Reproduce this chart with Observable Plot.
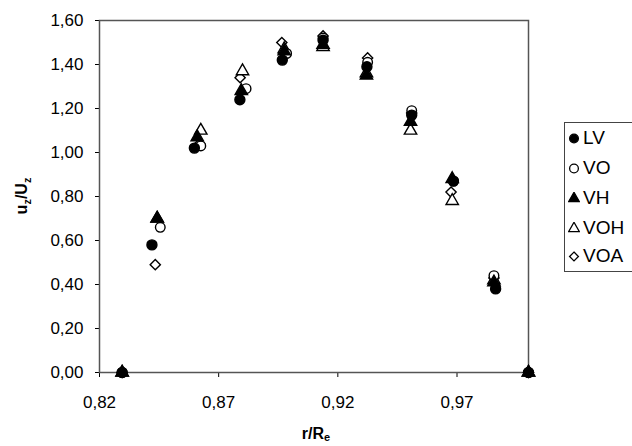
<!DOCTYPE html>
<html>
<head>
<meta charset="utf-8">
<script src="https://cdn.jsdelivr.net/npm/d3@7"></script>
<script src="https://cdn.jsdelivr.net/npm/@observablehq/plot@0.6"></script>
<style>
  body { margin: 0; background: #fff; font-family: Arial, "Liberation Sans", sans-serif; }
  #wrap { position: relative; width: 632px; height: 446px; overflow: hidden; }
  #legend { position: absolute; left: 564px; top: 122px; width: 90px; height: 150px;
            border: 1px solid #444; box-sizing: border-box; background: #fff; }
  .item { position: absolute; left: 0; height: 22px; display: flex; align-items: center;
          font-size: 19px; color: #000; }
  .item svg { margin-left: 3px; margin-right: 3px; }
</style>
</head>
<body>
<div id="wrap"></div>
<script>
// Series names
const seriesNames = ["LV", "VO", "VH", "VOH", "VOA"];
// r/Re positions per series
const rLV  = [0.8295, 0.8420, 0.8598, 0.8789, 0.8967, 0.9138, 0.9322, 0.9510, 0.9685, 0.9862, 1.0];
const rVO  = [0.8295, 0.8455, 0.8625, 0.8815, 0.8985, 0.9138, 0.9325, 0.9510, 0.9685, 0.9855, 1.0];
const rVH  = [0.8295, 0.8442, 0.8610, 0.8795, 0.8975, 0.9138, 0.9320, 0.9505, 0.9680, 0.9855, 1.0];
const rVOH = [0.8295, 0.8442, 0.8625, 0.8800, 0.8975, 0.9138, 0.9320, 0.9505, 0.9680, 0.9855, 1.0];
const rVOA = [0.8295, 0.8434, 0.8620, 0.8790, 0.8965, 0.9138, 0.9325, 0.9510, 0.9675, 0.9855, 1.0];
// uz/Uz values per series
const vLV  = [0, 0.58, 1.02, 1.24, 1.42, 1.51, 1.39, 1.17, 0.87, 0.38, 0];
const vVO  = [0, 0.66, 1.03, 1.29, 1.45, 1.52, 1.41, 1.19, 0.87, 0.44, 0];
const vVH  = [0, 0.70, 1.07, 1.28, 1.46, 1.49, 1.35, 1.14, 0.88, 0.41, 0];
const vVOH = [0, 0.70, 1.10, 1.37, 1.47, 1.48, 1.36, 1.10, 0.78, 0.42, 0];
const vVOA = [0, 0.49, 1.04, 1.34, 1.50, 1.53, 1.43, 1.18, 0.82, 0.43, 0];
// Ticks
const xTicks = [0.82, 0.87, 0.92, 0.97];
const yTicks = [0, 0.2, 0.4, 0.6, 0.8, 1.0, 1.2, 1.4, 1.6];

const rs = [rLV, rVO, rVH, rVOH, rVOA];
const vs = [vLV, vVO, vVH, vVOH, vVOA];
const styles = {
  LV:  {symbol: "circle",   fill: "black", stroke: "black", r: 5},
  VO:  {symbol: "circle",   fill: "white", stroke: "black", r: 4.8},
  VH:  {symbol: "triangle", fill: "black", stroke: "black", r: 4.6},
  VOH: {symbol: "triangle", fill: "white", stroke: "black", r: 4.6},
  VOA: {symbol: "diamond2", fill: "white", stroke: "black", r: 4.6}
};
const data = seriesNames.map((s, i) => rs[i].map((r, j) => ({series: s, r, v: vs[i][j]})));
const fmt = d => d.toFixed(2).replace(".", ",");

// draw open markers first, filled ones on top
const drawOrder = ["VOA", "VOH", "VO", "VH", "LV"];
const marks = drawOrder.map(s => {
  const i = seriesNames.indexOf(s);
  const st = styles[s];
  return Plot.dot(data[i], {x: "r", y: "v", symbol: () => st.symbol, r: st.r,
    fill: st.fill, stroke: st.stroke, strokeWidth: 1.4});
});

const chart = Plot.plot({
  width: 632, height: 446,
  marginLeft: 99, marginRight: 104, marginTop: 20, marginBottom: 74,
  style: {fontFamily: "Arial, 'Liberation Sans', sans-serif", fontSize: "17px", color: "#000", background: "white"},
  symbol: {type: "identity"},
  x: {domain: [0.82, 1.0], ticks: xTicks, tickFormat: fmt, tickSize: 5, tickPadding: 18, label: null},
  y: {domain: [0, 1.6], ticks: yTicks, tickFormat: fmt, tickSize: 4, tickPadding: 12, label: null},
  marks: [
    Plot.frame({stroke: "#555", strokeWidth: 1.5}),
    ...marks
  ]
});
document.getElementById("wrap").appendChild(chart);

// Axis titles with subscripts
const svg = d3.select(chart);
const yt = svg.append("text")
  .attr("transform", "translate(27,196) rotate(-90)")
  .attr("text-anchor", "middle")
  .attr("font-weight", "bold").attr("font-size", 16).attr("fill", "#000");
yt.append("tspan").text("u");
yt.append("tspan").attr("dy", 4).attr("font-size", 11).text("z");
yt.append("tspan").attr("dy", -4).text("/U");
yt.append("tspan").attr("dy", 4).attr("font-size", 11).text("z");

const xt = svg.append("text")
  .attr("x", 316).attr("y", 439)
  .attr("text-anchor", "middle")
  .attr("font-weight", "bold").attr("font-size", 16).attr("fill", "#000");
xt.append("tspan").text("r/R");
xt.append("tspan").attr("dy", 2).attr("font-size", 11).text("e");

// Legend
const legend = document.createElement("div");
legend.id = "legend";
const legendY = [15, 45, 75, 105, 133];
seriesNames.forEach((s, i) => {
  const st = styles[s];
  const item = document.createElement("div");
  item.className = "item";
  item.style.top = (legendY[i] - 11) + "px";
  const sym = d3.create("svg").attr("width", 12).attr("height", 12);
  const symType = st.symbol === "circle" ? d3.symbolCircle : st.symbol === "triangle" ? d3.symbolTriangle : d3.symbolDiamond2;
  sym.append("path")
    .attr("transform", "translate(6,6.5)")
    .attr("d", d3.symbol(symType, st.symbol === "circle" ? 60 : 50)())
    .attr("fill", st.fill).attr("stroke", st.stroke).attr("stroke-width", 1.3);
  item.appendChild(sym.node());
  const t = document.createElement("span");
  t.textContent = s;
  item.appendChild(t);
  legend.appendChild(item);
});
document.getElementById("wrap").appendChild(legend);
</script>
</body>
</html>
